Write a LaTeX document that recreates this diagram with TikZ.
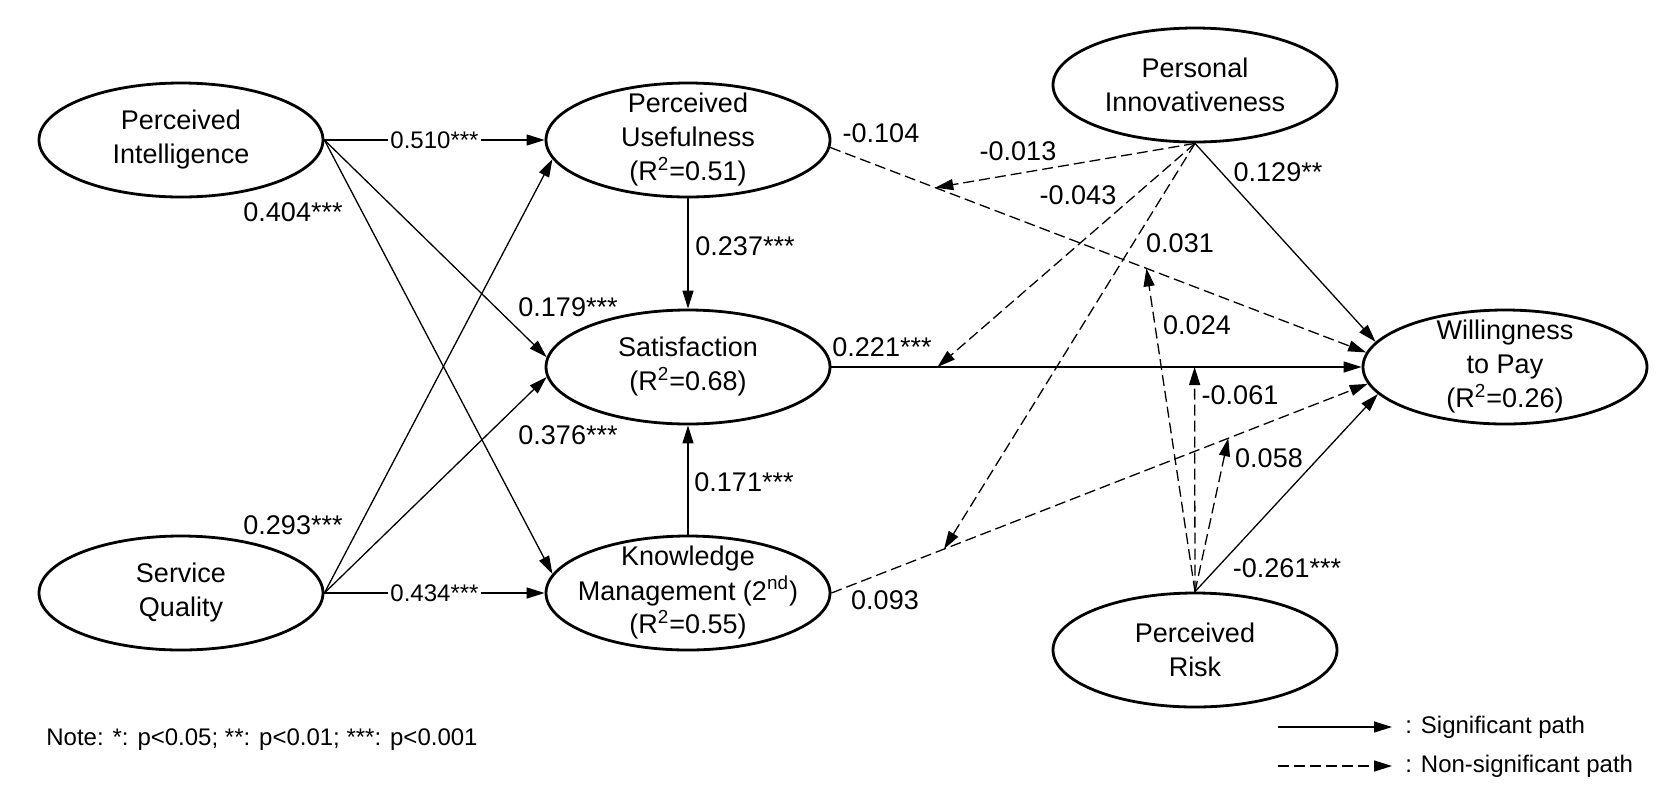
\documentclass[tikz,border=0pt]{standalone}
\usepackage{fontspec}
\setmainfont{Liberation Sans}
\usetikzlibrary{shapes.geometric,arrows.meta}

\begin{document}
\begin{tikzpicture}[x=0.5pt,y=-0.5pt,
	font=\fontsize{13.5}{17}\selectfont,
	>={Triangle[length=9pt,width=5.5pt]},
	latent/.style={ellipse,draw,line width=1.4pt,minimum width=142pt,minimum height=57pt,inner sep=0pt,
		label={[align=center]center:#1}},
	sig/.style={line width=0.65pt,->},
	nonsig/.style={line width=0.65pt,dash pattern=on 5.5pt off 2.5pt,->},
	coef/.style={inner sep=0pt},
	online/.style={fill=white,inner sep=1pt,font=\fontsize{12}{14}\selectfont},
	small/.style={inner sep=0pt,anchor=west,font=\fontsize{12}{14}\selectfont}]
	\useasboundingbox (0,0) rectangle (1662,800);

	\node[latent={Perceived\\Intelligence}] (pi) at (181,140) {};
	\node[latent={Service\\Quality}] (sq) at (181,593) {};
	\node[latent={Perceived\\Usefulness\\(R\textsuperscript{2}=0.51)}] (pu) at (688,140) {};
	\node[latent={Satisfaction\\(R\textsuperscript{2}=0.68)}] (sat) at (688,367) {};
	\node[latent={Knowledge\\Management (2\textsuperscript{nd})\\(R\textsuperscript{2}=0.55)}] (km) at (688,593) {};
	\node[latent={Personal\\Innovativeness}] (inn) at (1195,85) {};
	\node[latent={Willingness\\to Pay\\(R\textsuperscript{2}=0.26)}] (wtp) at (1505,367) {};
	\node[latent={Perceived\\Risk}] (pr) at (1195,650) {};

	\draw[sig] (pi.east) -- node[online] (c510) {0.510***} (pu.west);
	\draw[sig] (pi.east) -- (sat.176);
	\draw[sig] (pi.east) -- (km.172);
	\draw[sig] (sq.east) -- (pu.188);
	\draw[sig] (sq.east) -- (sat.184);
	\draw[sig] (sq.east) -- node[online] (c434) {0.434***} (km.west);
	\draw[sig] (pu.south) -- (sat.north);
	\draw[sig] (km.north) -- (sat.south);
	\draw[sig] (sat.east) -- coordinate[pos=0.2] (m2) coordinate[pos=0.685] (m5) (wtp.west);
	\draw[nonsig] (pu.-3) -- coordinate[pos=0.196] (m1) coordinate[pos=0.59] (m4) (wtp.174);
	\draw[nonsig] (km.east) -- coordinate[pos=0.21] (m3) coordinate[pos=0.74] (m6) (wtp.187);
	\draw[sig] (inn.south) -- (wtp.169);
	\draw[sig] (pr.north) -- (wtp.192);
	\foreach \m in {m1,m2,m3}
		\draw[nonsig] (inn.south) -- (\m);
	\foreach \m in {m4,m5,m6}
		\draw[nonsig] (pr.north) -- (\m);

	\node[coef] (c404) at (293,212) {0.404***};
	\node[coef] (c293) at (293,525) {0.293***};
	\node[coef] (c179) at (568,307) {0.179***};
	\node[coef] (c376) at (568,435) {0.376***};
	\node[coef] (c237) at (745,246) {0.237***};
	\node[coef] (c171) at (744,482) {0.171***};
	\node[coef] (c221) at (882,347) {0.221***};
	\node[coef] (c104) at (881,133) {-0.104};
	\node[coef] (c013) at (1018,151) {-0.013};
	\node[coef] (c043) at (1078,195) {-0.043};
	\node[coef] (c129) at (1278,172) {0.129**};
	\node[coef] (c031) at (1180,243) {0.031};
	\node[coef] (c024) at (1197,325) {0.024};
	\node[coef] (c061) at (1240,395) {-0.061};
	\node[coef] (c058) at (1269,458) {0.058};
	\node[coef] (c261) at (1287,568) {-0.261***};
	\node[coef] (c093) at (885,600) {0.093};

	\node[small] (note) at (46,740) {Note: *: p<0.05; **: p<0.01; ***: p<0.001};
	\coordinate (s1) at (1278,727);
	\coordinate (s2) at (1392,727);
	\coordinate (n1) at (1278,766);
	\coordinate (n2) at (1392,766);
	\draw[sig] (s1) -- (s2);
	\draw[nonsig] (n1) -- (n2);
	\node[small] (lsig) at (1405,727) {: Significant path};
	\node[small] (lnon) at (1405,766) {: Non-significant path};
\end{tikzpicture}
\end{document}
